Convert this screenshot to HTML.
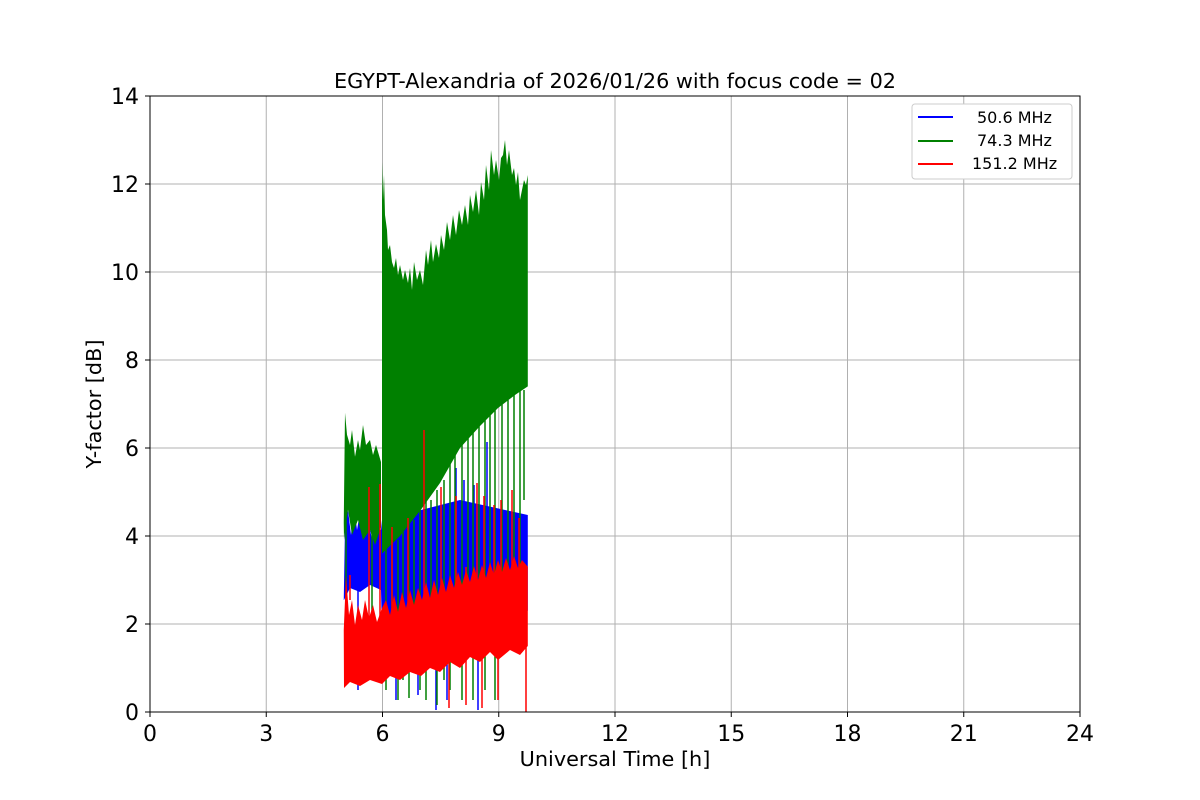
<!DOCTYPE html>
<html><head><meta charset="utf-8"><style>
body{margin:0;background:#fff;}
svg{display:block;font-family:"DejaVu Sans","Liberation Sans",sans-serif;}
</style></head><body>
<svg width="1200" height="800" xmlns="http://www.w3.org/2000/svg">
<rect width="1200" height="800" fill="#fff"/>
<g stroke="#b0b0b0" stroke-width="1">
<line x1="266.25" y1="96" x2="266.25" y2="712"/><line x1="382.5" y1="96" x2="382.5" y2="712"/>
<line x1="498.75" y1="96" x2="498.75" y2="712"/><line x1="615" y1="96" x2="615" y2="712"/>
<line x1="731.25" y1="96" x2="731.25" y2="712"/><line x1="847.5" y1="96" x2="847.5" y2="712"/>
<line x1="963.75" y1="96" x2="963.75" y2="712"/>
<line x1="150" y1="624" x2="1080" y2="624"/><line x1="150" y1="536" x2="1080" y2="536"/>
<line x1="150" y1="448" x2="1080" y2="448"/><line x1="150" y1="360" x2="1080" y2="360"/>
<line x1="150" y1="272" x2="1080" y2="272"/><line x1="150" y1="184" x2="1080" y2="184"/>
</g>
<!-- blue -->
<polygon fill="#0000ff" points="343.75,600 345,525 348,510 351,535 354,505 357,530 360,512 364,538 368,518 372,540 376,525 381,530 382,520 460,500 527.8,515 527.8,610.8 460,620 382,632.8 381,590 370,585 360,592 350,588 344,600"/>
<g stroke="#0000ff" stroke-width="1.5">
<line x1="358" y1="584" x2="358" y2="690"/><line x1="396" y1="600" x2="396" y2="700"/><line x1="418" y1="600" x2="418" y2="695"/>
<line x1="436" y1="600" x2="436" y2="710"/><line x1="447" y1="600" x2="447" y2="700"/><line x1="478" y1="600" x2="478" y2="710"/>
<line x1="456" y1="520" x2="456" y2="468"/><line x1="487" y1="520" x2="487" y2="442"/><line x1="464" y1="520" x2="464" y2="480"/>
<line x1="474" y1="520" x2="474" y2="485"/><line x1="414" y1="560" x2="414" y2="505"/>
</g>
<!-- green -->
<polygon fill="#008000" points="343.75,522.8 345,412.8 347,434.8 350,445 352,430 355,456.8 358,440 360,450 363,425 366,445 370,440 373,455 376,445 381,462 381,527.2 375,545 370,530 363,540 358,520 352,535 348,509.6 344,540"/>
<polygon fill="#008000" points="382,162 383,200 384,175 385,215 387,230 388,250 390,245 392,262 394,268 396,258 398,275 400,265 403,280 405,270 408,283 410,268 412,290 414,262 417,280 420,270 423,285 426,250 428,265 431,240 433,262 436,244 439,258 441,235 444,250 447,222 450,240 453,215 456,235 459,210 462,225 465,205 468,225 470,195 473,212 476,190 479,215 481,182 484,200 486,165 489,190 491,150 494,175 496,160 499,180 501,158 503,155 505,140 507,165 509,150 512,175 514,168 516,185 518,172 520,200 522,190 524,180 526,185 527.8,175 527.8,386.4 515,395 498,408 480,426 460,448 440,483 421,509.6 400,536 382,553.6"/>
<g stroke="#008000" stroke-width="1.5">
<line x1="346" y1="520" x2="346" y2="640"/><line x1="372" y1="520" x2="372" y2="620"/>
<line x1="386" y1="540" x2="386" y2="690"/><line x1="392" y1="540" x2="392" y2="670"/><line x1="398" y1="540" x2="398" y2="700"/>
<line x1="403" y1="530" x2="403" y2="680"/><line x1="409" y1="520" x2="409" y2="698"/><line x1="414" y1="520" x2="414" y2="660"/>
<line x1="420" y1="510" x2="420" y2="690"/><line x1="426" y1="500" x2="426" y2="700"/><line x1="431" y1="500" x2="431" y2="650"/>
<line x1="437" y1="490" x2="437" y2="705"/><line x1="444" y1="480" x2="444" y2="680"/><line x1="450" y1="460" x2="450" y2="690"/>
<line x1="455" y1="450" x2="455" y2="640"/><line x1="462" y1="440" x2="462" y2="700"/><line x1="468" y1="430" x2="468" y2="620"/>
<line x1="473" y1="430" x2="473" y2="700"/><line x1="479" y1="420" x2="479" y2="660"/><line x1="485" y1="420" x2="485" y2="690"/>
<line x1="490" y1="410" x2="490" y2="600"/><line x1="495" y1="410" x2="495" y2="700"/><line x1="502" y1="400" x2="502" y2="640"/>
<line x1="508" y1="400" x2="508" y2="600"/><line x1="514" y1="395" x2="514" y2="560"/><line x1="520" y1="390" x2="520" y2="620"/>
<line x1="524" y1="390" x2="524" y2="500"/>
</g>
<!-- red -->
<polygon fill="#ff0000" points="343.75,630 346,575.6 349,615 352,600 355,625 358,605 362,620 365,600 369,618 373,605 377,622 382,608 386,600 390,615 394,595 398,612 402,592 406,608 410,590 414,605 418,588 422,600 426,582 430,598 434,580 438,595 442,578 446,592 450,575 454,588 458,572 462,585 466,570 470,582 474,566 478,580 482,565 486,578 490,562 494,575 498,560 502,572 506,558 510,570 514,556 518,568 522,560 527.8,566.8 527.8,646 520,655 510,650 498,660 490,652 480,662 470,657 460,668 450,662 440,672 430,668 421,676 410,672 400,680 390,676 382,684 370,680 360,686 350,682 344,688"/>
<g stroke="#ff0000" stroke-width="1.5">
<line x1="350" y1="600" x2="350" y2="575"/><line x1="369" y1="620" x2="369" y2="487"/><line x1="380" y1="620" x2="380" y2="484"/>
<line x1="392" y1="620" x2="392" y2="527"/><line x1="408" y1="620" x2="408" y2="518"/><line x1="424" y1="620" x2="424" y2="430"/>
<line x1="441" y1="600" x2="441" y2="487"/><line x1="456" y1="600" x2="456" y2="496"/><line x1="466" y1="600" x2="466" y2="567"/>
<line x1="477" y1="590" x2="477" y2="483"/><line x1="484" y1="590" x2="484" y2="496"/><line x1="494" y1="590" x2="494" y2="505"/>
<line x1="501" y1="590" x2="501" y2="500"/><line x1="512" y1="580" x2="512" y2="490"/><line x1="519" y1="580" x2="519" y2="518"/>
<line x1="449" y1="650" x2="449" y2="708"/><line x1="466" y1="650" x2="466" y2="705"/><line x1="482" y1="650" x2="482" y2="708"/>
<line x1="498" y1="640" x2="498" y2="700"/><line x1="526" y1="640" x2="526" y2="712"/>
</g>
<rect x="150" y="96" width="930" height="616" fill="none" stroke="#000" stroke-width="1"/>
<g stroke="#000" stroke-width="1">
<line x1="150" y1="712" x2="150" y2="717"/><line x1="266.25" y1="712" x2="266.25" y2="717"/><line x1="382.5" y1="712" x2="382.5" y2="717"/>
<line x1="498.75" y1="712" x2="498.75" y2="717"/><line x1="615" y1="712" x2="615" y2="717"/><line x1="731.25" y1="712" x2="731.25" y2="717"/>
<line x1="847.5" y1="712" x2="847.5" y2="717"/><line x1="963.75" y1="712" x2="963.75" y2="717"/><line x1="1080" y1="712" x2="1080" y2="717"/>
<line x1="145" y1="712" x2="150" y2="712"/><line x1="145" y1="624" x2="150" y2="624"/><line x1="145" y1="536" x2="150" y2="536"/>
<line x1="145" y1="448" x2="150" y2="448"/><line x1="145" y1="360" x2="150" y2="360"/><line x1="145" y1="272" x2="150" y2="272"/>
<line x1="145" y1="184" x2="150" y2="184"/><line x1="145" y1="96" x2="150" y2="96"/>
</g>
<g font-size="22" text-anchor="middle">
<text x="150" y="741">0</text><text x="266.25" y="741">3</text><text x="382.5" y="741">6</text><text x="498.75" y="741">9</text>
<text x="615" y="741">12</text><text x="731.25" y="741">15</text><text x="847.5" y="741">18</text><text x="963.75" y="741">21</text><text x="1080" y="741">24</text>
</g>
<g font-size="22" text-anchor="end">
<text x="139" y="720">0</text><text x="139" y="632">2</text><text x="139" y="544">4</text><text x="139" y="456">6</text>
<text x="139" y="368">8</text><text x="139" y="280">10</text><text x="139" y="192">12</text><text x="139" y="104">14</text>
</g>
<text x="615" y="88" font-size="20.8" text-anchor="middle">EGYPT-Alexandria of 2026/01/26 with focus code = 02</text>
<text x="615" y="766" font-size="20.8" text-anchor="middle">Universal Time [h]</text>
<text transform="translate(101,404) rotate(-90)" font-size="20.8" text-anchor="middle">Y-factor [dB]</text>
<rect x="912" y="104" width="160" height="75" fill="#fff" stroke="#ccc" rx="3"/>
<line x1="918" y1="117" x2="953" y2="117" stroke="#0000ff" stroke-width="2"/>
<line x1="918" y1="141" x2="953" y2="141" stroke="#008000" stroke-width="2"/>
<line x1="918" y1="164" x2="953" y2="164" stroke="#ff0000" stroke-width="2"/>
<text x="977" y="123" font-size="16">50.6 MHz</text>
<text x="977" y="146" font-size="16">74.3 MHz</text>
<text x="972" y="169" font-size="16">151.2 MHz</text>
</svg>
</body></html>
